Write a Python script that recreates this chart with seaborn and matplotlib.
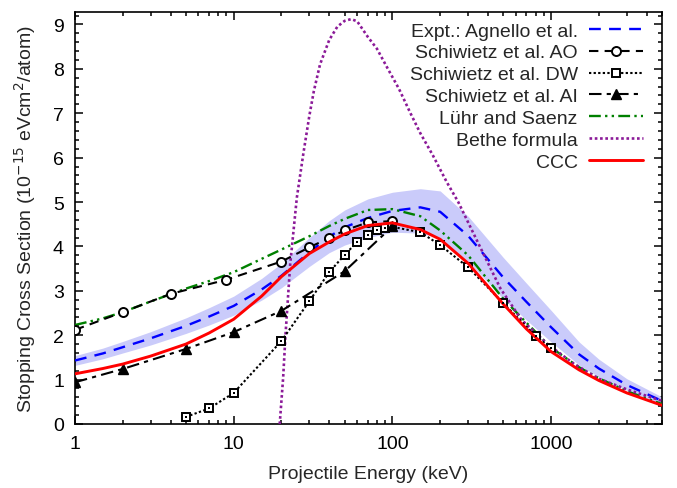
import numpy as np
import pandas as pd
import matplotlib
matplotlib.use("Agg")
import matplotlib.pyplot as plt
import seaborn as sns
from matplotlib.ticker import LogLocator, FixedLocator, FixedFormatter, NullFormatter, MultipleLocator

# ---------------- data ----------------
grid_E = [1, 1.5, 2, 3, 5, 7, 10, 15, 20, 30, 40, 50, 70, 100, 150, 200, 300,
          500, 700, 1000, 1500, 2000, 3000, 5000]

expt_y = [1.43, 1.59, 1.73, 1.93, 2.21, 2.42, 2.66, 3.03, 3.34, 3.87, 4.22, 4.43,
          4.64, 4.80, 4.88, 4.78, 4.24, 3.30, 2.75, 2.18, 1.57, 1.25, 0.88, 0.52]
expt_lo = [1.32, 1.47, 1.60, 1.78, 2.04, 2.23, 2.45, 2.79, 3.07, 3.55, 3.86, 4.03,
           4.20, 4.32, 4.30, 4.18, 3.66, 2.82, 2.34, 1.85, 1.33, 1.06, 0.76, 0.44]
expt_hi = [1.54, 1.71, 1.86, 2.08, 2.39, 2.62, 2.88, 3.28, 3.62, 4.20, 4.58, 4.82,
           5.07, 5.22, 5.30, 5.25, 4.68, 3.75, 3.17, 2.56, 1.85, 1.46, 1.02, 0.61]

ccc_y = [1.13, 1.25, 1.35, 1.53, 1.80, 2.05, 2.36, 2.88, 3.32, 3.84, 4.10, 4.28,
         4.47, 4.53, 4.38, 4.16, 3.62, 2.70, 2.14, 1.63, 1.22, 0.98, 0.70, 0.42]

luhr_y = [2.23, 2.38, 2.52, 2.76, 3.05, 3.22, 3.42, 3.72, 3.93, 4.23, 4.46, 4.62,
          4.82, 4.84, 4.68, 4.36, 3.80, 2.82, 2.28, 1.72, 1.28, 1.03, 0.74, 0.45]

ao_E = [1, 2, 4, 9, 20, 30, 40, 50, 70, 100]
ao_y = [2.12, 2.52, 2.93, 3.25, 3.66, 3.98, 4.19, 4.36, 4.54, 4.57]

dw_E = [5, 7, 10, 20, 30, 40, 50, 60, 70, 80, 90, 100, 150, 200, 300, 500, 800, 1000]
dw_y = [0.16, 0.35, 0.70, 1.87, 2.77, 3.42, 3.81, 4.10, 4.26, 4.37, 4.42, 4.44,
        4.32, 4.03, 3.53, 2.72, 1.98, 1.71]

ai_E = [1, 2, 5, 10, 20, 50, 100]
ai_y = [0.94, 1.24, 1.69, 2.07, 2.55, 3.44, 4.45]

bethe_E = [19.5, 20.5, 21.2, 22.7, 25, 27.5, 30, 32, 35, 40, 45, 50, 55, 60, 70,
           80, 92, 110, 130, 150, 180, 220, 260, 350, 480, 650, 950, 1400, 2000,
           3000, 5000]
bethe_y = [0.0, 1.05, 2.0, 3.6, 5.1, 6.1, 6.95, 7.5, 8.1, 8.65, 8.95, 9.08, 9.12,
           9.07, 8.72, 8.45, 8.05, 7.55, 7.0, 6.55, 6.05, 5.45, 5.0, 4.05, 3.05,
           2.35, 1.8, 1.35, 1.02, 0.78, 0.52]

labels = ["Expt.: Agnello et al.", "Schiwietz et al. AO", "Schiwietz et al. DW",
          "Schiwietz et al. AI", "Lühr and Saenz", "Bethe formula", "CCC"]
x_ticks = [1, 10, 100, 1000]
x_tick_labels = ["1", "10", "100", "1000"]
y_ticks = [0, 1, 2, 3, 4, 5, 6, 7, 8, 9]

# ---------------- style ----------------
sns.set_theme(style="ticks")
plt.rcParams["font.family"] = ["Liberation Sans", "DejaVu Sans"]
plt.rcParams["font.size"] = 14
FS = 14

W, H = 677, 489
fig = plt.figure(figsize=(W / 100, H / 100), dpi=100)
L, R, T, B = 75, 662, 13, 425
ax = fig.add_axes([L / W, 1 - B / H, (R - L) / W, (B - T) / H])

grid_df = pd.DataFrame({"E": grid_E, "expt": expt_y, "lo": expt_lo, "hi": expt_hi,
                        "ccc": ccc_y, "luhr": luhr_y})

ax.fill_between(grid_df["E"], grid_df["lo"], grid_df["hi"], color="#cacbfa",
                linewidth=0, zorder=1)

common = dict(ax=ax, estimator=None, sort=False, legend=False)

sns.lineplot(data=grid_df, x="E", y="expt", color="#0000ff", lw=1.7,
             linestyle=(0, (5, 3.5)), label=labels[0], zorder=3, **common)

ao_df = pd.DataFrame({"E": ao_E, "y": ao_y})
sns.lineplot(data=ao_df, x="E", y="y", color="black", lw=1.5,
             linestyle=(0, (4.5, 3)), marker="o", markersize=6.5,
             markerfacecolor="white", markeredgecolor="black", markeredgewidth=1.4,
             label=labels[1], zorder=4, **common)

dw_df = pd.DataFrame({"E": dw_E, "y": dw_y})
sns.lineplot(data=dw_df, x="E", y="y", color="black", lw=1.5,
             linestyle=(0, (1.1, 1.1)), marker="s", markersize=6,
             markerfacecolor="white", markeredgecolor="black", markeredgewidth=1.4,
             label=labels[2], zorder=4, **common)
sns.scatterplot(data=dw_df, x="E", y="y", ax=ax, marker="s", s=3, color="black",
                linewidth=0, zorder=5, legend=False)

ai_df = pd.DataFrame({"E": ai_E, "y": ai_y})
sns.lineplot(data=ai_df, x="E", y="y", color="black", lw=1.5,
             linestyle=(0, (6, 2.5, 2, 2.5)), marker="^", markersize=7,
             markerfacecolor="black", markeredgecolor="black", markeredgewidth=1,
             label=labels[3], zorder=4, **common)

sns.lineplot(data=grid_df, x="E", y="luhr", color="#008000", lw=1.7,
             linestyle=(0, (5, 1.8, 1, 1.8, 1, 1.8)), label=labels[4], zorder=3,
             **common)

bethe_df = pd.DataFrame({"E": bethe_E, "y": bethe_y})
sns.lineplot(data=bethe_df, x="E", y="y", color="#8b1a98", lw=1.9,
             linestyle=(0, (1, 1)), label=labels[5], zorder=3, **common)

sns.lineplot(data=grid_df, x="E", y="ccc", color="#ff0000", lw=2.1,
             linestyle="-", label=labels[6], zorder=4, **common)

# ---------------- axes ----------------
ax.set_xscale("log")
ax.set_xlim(1, 5000)
ax.set_ylim(0, 9.28)
ax.xaxis.set_major_locator(FixedLocator(x_ticks))
ax.xaxis.set_major_formatter(FixedFormatter(x_tick_labels))
ax.xaxis.set_minor_locator(LogLocator(base=10, subs=np.arange(2, 10)))
ax.xaxis.set_minor_formatter(NullFormatter())
ax.yaxis.set_major_locator(FixedLocator(y_ticks))
ax.yaxis.set_minor_locator(MultipleLocator(0.2))

ax.tick_params(which="both", direction="in", top=True, right=True,
               color="black", width=1.1, labelsize=FS, labelcolor="black")
ax.tick_params(which="major", length=6, pad=8)
ax.tick_params(which="minor", length=3)
for sp in ax.spines.values():
    sp.set_linewidth(1.2)
    sp.set_color("black")
    sp.set_visible(True)

ax.set_xlabel("Projectile Energy (keV)", fontsize=FS, labelpad=9)
ax.set_ylabel("Stopping Cross Section (10$^{-15}$ eVcm$^2$/atom)", fontsize=FS,
              labelpad=11)

handles, labs = ax.get_legend_handles_labels()
order = [labs.index(l) for l in labels]
leg = ax.legend([handles[i] for i in order], [labs[i] for i in order],
                loc="upper right", bbox_to_anchor=(643 / W, 1 - 23 / H),
                bbox_transform=fig.transFigure, frameon=False, markerfirst=False,
                handlelength=2.8, handletextpad=0.55, labelspacing=0.22,
                borderpad=0, borderaxespad=0, fontsize=FS, numpoints=1)
leg.set_zorder(10)

fig.savefig("out.png", dpi=100)
